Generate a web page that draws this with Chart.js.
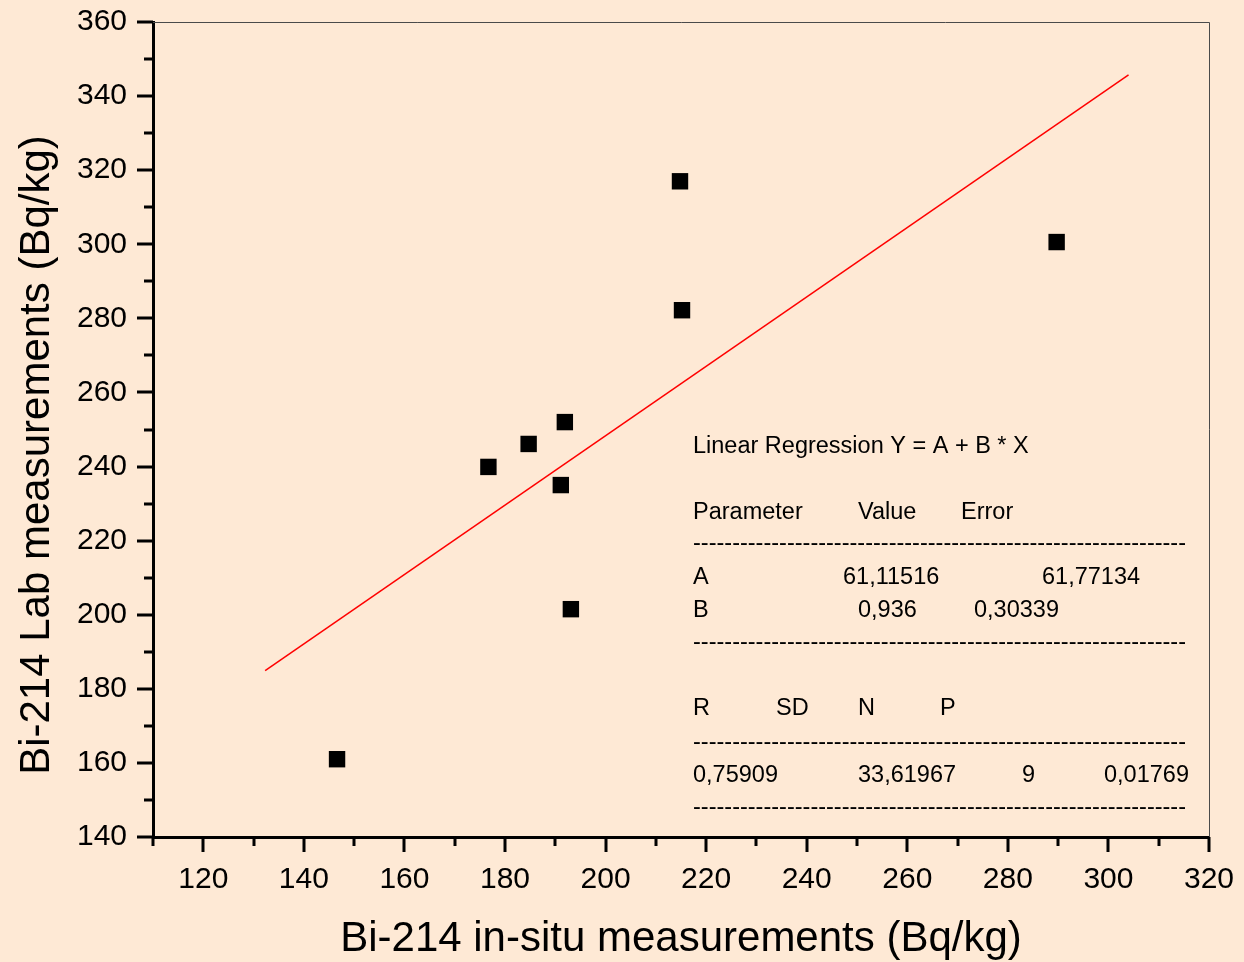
<!DOCTYPE html>
<html>
<head>
<meta charset="utf-8">
<script src="https://cdn.jsdelivr.net/npm/chart.js@4.4.0/dist/chart.umd.min.js"></script>
<style>
  html, body { margin: 0; padding: 0; background: #fee9d5; }
  canvas { display: block; }
</style>
</head>
<body>
<canvas id="chart" width="1244" height="962"></canvas>
<script>
// measured points (in-situ vs lab, Bq/kg)
const insitu = [146.6, 176.7, 184.7, 191.9, 191.1, 193.1, 214.8, 215.2, 289.7];
const lab = [161.0, 239.9, 246.1, 252.0, 235.0, 201.5, 317.0, 282.2, 300.6];

// fitted line end points
const fitX = [132.3, 304.0];
const fitY = [184.9, 345.7];

// tick labels
const xTicks = [120, 140, 160, 180, 200, 220, 240, 260, 280, 300, 320];
const yTicks = [140, 160, 180, 200, 220, 240, 260, 280, 300, 320, 340, 360];

const xTitle = "Bi-214 in-situ measurements (Bq/kg)";
const yTitle = "Bi-214 Lab measurements (Bq/kg)";

// regression report rows: [text, column x offset from box left]
const reportRows = [
  [["Linear Regression Y = A + B * X", 0]],
  [["Parameter", 0], ["Value", 165], ["Error", 268]],
  "dash",
  [["A", 0], ["61,11516", 150], ["61,77134", 349]],
  [["B", 0], ["0,936", 165], ["0,30339", 281]],
  "dash",
  [["R", 0], ["SD", 83], ["N", 165], ["P", 247]],
  "dash",
  [["0,75909", 0], ["33,61967", 165], ["9", 329], ["0,01769", 411]],
  "dash"
];
const reportBaselines = [453, 519, 550, 583.5, 616.5, 649, 715, 749, 781.5, 814];

const FONT = "'Liberation Sans', Arial, sans-serif";

const decor = {
  id: "decor",
  beforeDraw(chart) {
    const ctx = chart.ctx;
    ctx.save();
    ctx.fillStyle = "#fee9d5";
    ctx.fillRect(0, 0, chart.width, chart.height);
    ctx.restore();
  },
  afterDraw(chart) {
    const ctx = chart.ctx;
    const area = chart.chartArea;
    const xs = chart.scales.x;
    const ys = chart.scales.y;
    ctx.save();

    // thin frame on top and right
    ctx.strokeStyle = "#4a4a4a";
    ctx.lineWidth = 1;
    ctx.beginPath();
    ctx.moveTo(area.left, area.top + 0.5);
    ctx.lineTo(area.right + 0.5, area.top + 0.5);
    ctx.lineTo(area.right + 0.5, area.bottom);
    ctx.stroke();

    // tick marks, major and minor, pointing out
    ctx.strokeStyle = "#000";
    ctx.lineWidth = 3;
    ctx.beginPath();
    for (let v = xs.min; v <= xs.max + 0.01; v += 10) {
      const px = Math.round(xs.getPixelForValue(v));
      const len = xTicks.includes(v) ? 15 : 9;
      ctx.moveTo(px, area.bottom);
      ctx.lineTo(px, area.bottom + len);
    }
    for (let v = ys.min; v <= ys.max + 0.01; v += 10) {
      const py = Math.round(ys.getPixelForValue(v));
      const len = yTicks.includes(v) ? 16 : 9;
      ctx.moveTo(area.left, py);
      ctx.lineTo(area.left - len, py);
    }
    ctx.stroke();

    // axis titles
    ctx.fillStyle = "#000";
    ctx.font = "42px " + FONT;
    ctx.textAlign = "center";
    ctx.textBaseline = "middle";
    ctx.fillText(xTitle, (area.left + area.right) / 2, 939);
    ctx.translate(37, 455);
    ctx.rotate(-Math.PI / 2);
    ctx.fillText(yTitle, 0, 0);
    ctx.setTransform(1, 0, 0, 1, 0, 0);

    // regression report
    const boxLeft = 693;
    const boxRight = 1187;
    ctx.font = "23.5px " + FONT;
    ctx.textAlign = "left";
    ctx.textBaseline = "alphabetic";
    let dashes = "-";
    while (ctx.measureText(dashes + "-").width <= boxRight - boxLeft) dashes += "-";
    reportRows.forEach((row, i) => {
      const by = reportBaselines[i];
      if (row === "dash") {
        ctx.fillText(dashes, boxLeft, by);
      } else {
        row.forEach(([t, dx]) => ctx.fillText(t, boxLeft + dx, by));
      }
    });
    ctx.restore();
  }
};

new Chart(document.getElementById("chart"), {
  type: "scatter",
  data: {
    datasets: [
      {
        type: "line",
        data: fitX.map((x, i) => ({ x: x, y: fitY[i] })),
        borderColor: "#ff0000",
        borderWidth: 1.5,
        pointRadius: 0,
        fill: false,
        order: 2
      },
      {
        data: insitu.map((x, i) => ({ x: x, y: lab[i] })),
        pointStyle: "rect",
        pointRadius: 11.6,
        backgroundColor: "#000",
        borderColor: "#000",
        borderWidth: 0,
        order: 1
      }
    ]
  },
  options: {
    responsive: false,
    animation: false,
    layout: { padding: { top: 22, right: 35, left: 0, bottom: 0 } },
    plugins: { legend: { display: false }, tooltip: { enabled: false } },
    scales: {
      x: {
        type: "linear",
        min: 110,
        max: 320,
        afterBuildTicks: s => { s.ticks = xTicks.map(v => ({ value: v })); },
        afterFit: s => { s.height = 125; s.paddingLeft = 0; s.paddingRight = 0; },
        grid: { display: false },
        border: { display: true, color: "#000", width: 3 },
        ticks: { color: "#000", font: { family: FONT, size: 30 }, padding: 17, maxRotation: 0 }
      },
      y: {
        type: "linear",
        min: 140,
        max: 360,
        afterBuildTicks: s => { s.ticks = yTicks.map(v => ({ value: v })); },
        afterFit: s => { s.width = 153; s.paddingTop = 0; s.paddingBottom = 0; },
        grid: { display: false },
        border: { display: true, color: "#000", width: 3 },
        ticks: { color: "#000", font: { family: FONT, size: 30 }, padding: 18 }
      }
    }
  },
  plugins: [decor]
});
</script>
</body>
</html>
